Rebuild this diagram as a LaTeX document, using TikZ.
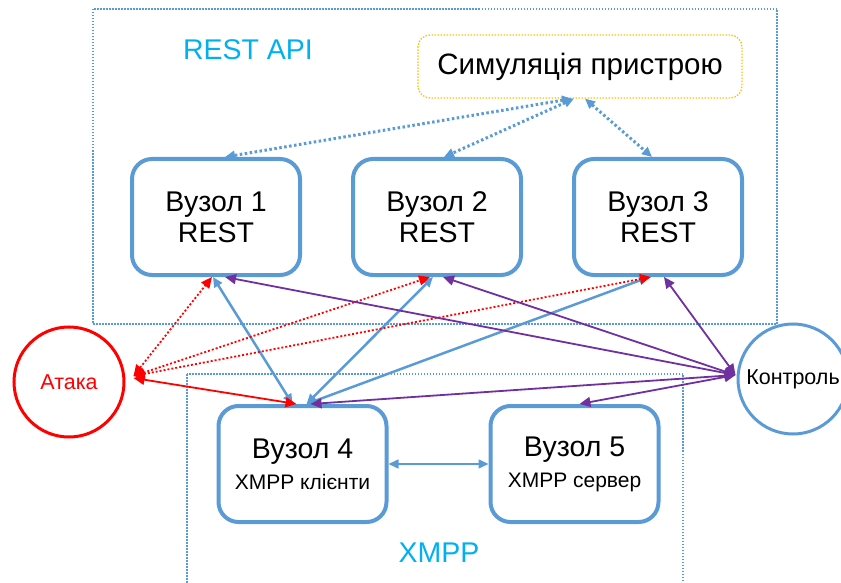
\documentclass[tikz,border=0pt]{standalone}
\usepackage{fontspec}
\setmainfont{Liberation Sans}
\usetikzlibrary{arrows.meta,positioning,calc}
\definecolor{NodeBlue}{HTML}{5B9BD5}
\definecolor{Violet}{HTML}{7030A0}
\definecolor{Alarm}{HTML}{FF0000}
\definecolor{Amber}{HTML}{FFC000}
\definecolor{Sky}{HTML}{00B0F0}
\tikzset{
 hostbox/.style={draw=NodeBlue, line width=4pt, rounded corners=20pt, fill=white, minimum width=168pt, minimum height=116pt, align=center, inner sep=0pt, font=\fontsize{28.5}{31}\selectfont},
 simbox/.style={draw=Amber, line width=1.3pt, dash pattern=on 1.5pt off 1.5pt, rounded corners=12pt, minimum width=324pt, minimum height=63pt, font=\fontsize{29.5}{32}\selectfont},
 zone/.style={draw=NodeBlue, line width=1.2pt, dash pattern=on 1.5pt off 1.5pt},
 zonelabel/.style={text=Sky, font=\fontsize{28.5}{32}\selectfont},
 actor/.style={circle, line width=3pt, minimum size=110pt, inner sep=0pt, fill=white, font=\fontsize{21.5}{24}\selectfont},
 simlink/.style={{Triangle[length=10pt,width=9pt]}-{Triangle[length=10pt,width=9pt]}, draw=NodeBlue, line width=3pt, dash pattern=on 2.5pt off 2.5pt},
 link/.style={{Triangle[length=10pt,width=9pt]}-{Triangle[length=10pt,width=9pt]}, draw=NodeBlue, line width=2.5pt},
 attack/.style={{Triangle[length=11pt,width=10pt]}-{Triangle[length=11pt,width=10pt]}, draw=Alarm, line width=1.8pt, dash pattern=on 2pt off 2pt},
 breach/.style={{Triangle[length=11pt,width=10pt]}-{Triangle[length=11pt,width=10pt]}, draw=Alarm, line width=1.8pt},
 control/.style={{Triangle[length=11pt,width=10pt]}-{Triangle[length=11pt,width=10pt]}, draw=Violet, line width=1.8pt}
}
\begin{document}
\begin{tikzpicture}[x=1pt,y=-1pt]
\useasboundingbox (0,0) rectangle (841,583);
% zones
\draw[zone] (93,9) rectangle (777,324);
\draw[zone] (187,374) rectangle (683,600);
\node[zonelabel] (restlbl) at (248,50) {REST API};
\node[zonelabel] (xmpplbl) at (439,553) {XMPP};

\node[simbox] (sim) at (580,66.5) {Симуляція пристрою};
\node[hostbox] (n1) at (216,217) {Вузол 1\\REST};
\node[hostbox, right=49pt of n1] (n2) {Вузол 2\\REST};
\node[hostbox, right=49pt of n2] (n3) {Вузол 3\\REST};
\node[hostbox] (n4) at (302.5,464) {Вузол 4\\\fontsize{21}{31}\selectfont XMPP клієнти};
\node[hostbox, right=100pt of n4] (n5) {Вузол 5\\\fontsize{21}{31}\selectfont XMPP сервер};
\node[actor, draw=Alarm, text=Alarm] (atk) at (69,382) {Атака};
\node[actor, draw=NodeBlue] (ctrl) at (793,379) {Контроль};

\draw[simlink] ([xshift=-8pt]sim.south) -- ([xshift=9pt]n1.north);
\draw[simlink] ([xshift=-6pt]sim.south) -- ([xshift=7pt]n2.north);
\draw[simlink] ([xshift=5pt]sim.south) -- ([xshift=-6pt]n3.north);

\draw[link] ([xshift=-3pt]n1.south) -- ([xshift=-10pt]n4.north);
\draw[link] ([xshift=-4pt]n2.south) -- ([xshift=4pt]n4.north);
\draw[link] ([xshift=-9pt]n3.south) -- ([xshift=4pt]n4.north);
\draw[link, line width=1.5pt] (n4.east) -- (n5.west);

% attack paths
\coordinate (hit) at ([shift={(8pt,6pt)}]atk.east);
\draw[attack] (hit) -- ([xshift=-4pt]n1.south);
\draw[attack] (hit) -- ([xshift=-7pt]n2.south);
\draw[attack] (hit) -- ([xshift=-7pt]n3.south);
\draw[breach] ([shift={(8pt,4pt)}]atk.east) -- ([xshift=-6pt]n4.north);

% control paths
\coordinate (cmd) at ([shift={(-1pt,4pt)}]ctrl.west);
\draw[control] (cmd) -- ([xshift=9pt]n1.south);
\draw[control] (cmd) -- ([xshift=6pt]n2.south);
\draw[control] (cmd) -- ([xshift=6pt]n3.south);
\draw[control] (cmd) -- ([xshift=8pt]n4.north);
\draw[control] (cmd) -- ([xshift=5pt]n5.north);
\end{tikzpicture}
\end{document}
